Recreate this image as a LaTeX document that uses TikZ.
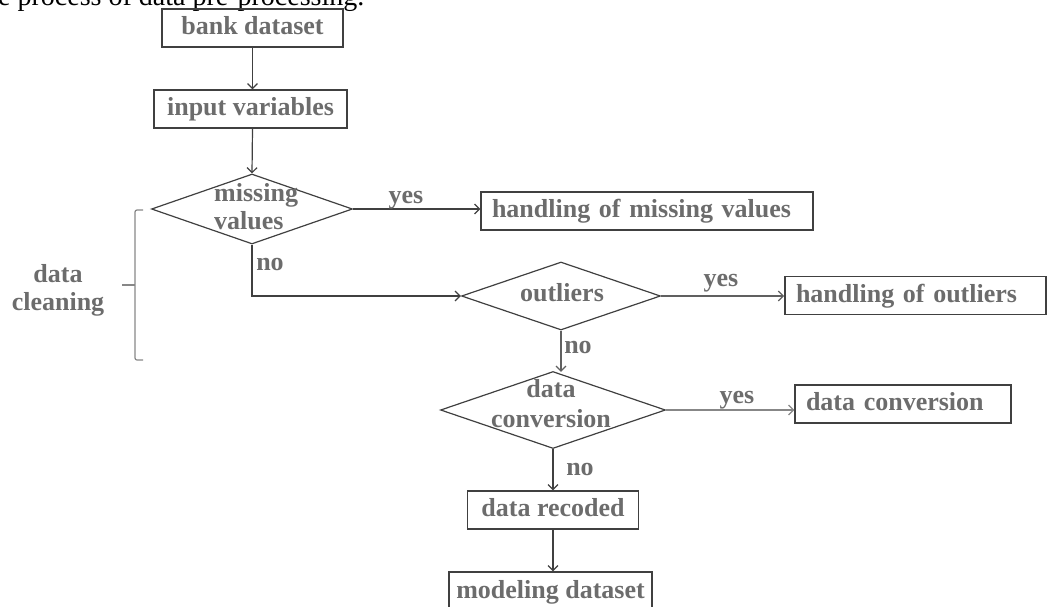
\documentclass[tikz,border=0pt]{standalone}
\usepackage{fontspec}
\setmainfont{Liberation Serif}
\usetikzlibrary{arrows.meta,shapes.geometric}
\definecolor{txtgray}{RGB}{108,108,108}
\definecolor{lngray}{RGB}{64,64,64}
\definecolor{midgray}{RGB}{96,96,96}
\definecolor{ltgray}{RGB}{135,135,135}
\tikzset{
  bfont/.style={font=\fontsize{26}{28}\selectfont\bfseries},
  box/.style={bfont, draw=lngray, line width=1.2pt, inner sep=0pt, minimum height=38pt,
    text height=17pt, text depth=4pt, text=txtgray},
  lbox/.style={box, inner xsep=11pt, align=left},
  dia/.style={shape=diamond, draw=lngray, line width=1.2pt, inner sep=0pt},
  dtext/.style={bfont, text=txtgray, inner sep=0pt},
  lab/.style={bfont, text=txtgray, inner sep=0pt, anchor=base},
  arr/.style={draw=lngray, line width=1.2pt, -{Straight Barb[length=5pt,width=10pt]}},
}
\begin{document}
\begin{tikzpicture}[x=1pt,y=-1pt]
\useasboundingbox (0,0) rectangle (1047,606);
\clip (0,0) rectangle (1047,606);
% caption fragment
\node[anchor=base west, inner sep=0pt, font=\fontsize{28}{30}\selectfont] (cap) at (-2,5.5) {e process of data pre-processing.};
% boxes
\node[box, minimum width=181pt] (bank) at (252.5,28) {bank dataset};
\node[box, minimum width=193pt] (input) at (250.5,109) {input variables};
\node[lbox, text width=310pt] (hm) at (647,211) {handling of missing values};
\node[lbox, text width=239pt, line width=1.8pt, draw=black!75] (ho) at (915.5,295.5) {handling of outliers};
\node[lbox, text width=194pt] (dcb) at (903,404) {data conversion};
\node[box, minimum width=171pt] (dr) at (553,510) {data recoded};
\node[box, minimum width=203pt, minimum height=40pt] (md) at (550.5,592) {modeling dataset};
% diamonds
\node[dia, minimum width=201pt, minimum height=70pt] (mv) at (252,209) {};
\node[dia, minimum width=199pt, minimum height=68pt] (out) at (561,296) {};
\node[dia, minimum width=225pt, minimum height=77pt] (dc) at (553,410) {};
\node[dtext, anchor=base west, align=left] (mvt) at (214,229) {missing\\values};
\node[dtext, anchor=base] (outt) at (562,301) {outliers};
\node[dtext, anchor=base, align=center, font=\fontsize{26}{30}\selectfont\bfseries] (dct) at (551,427) {data\\conversion};
% connectors
\draw[arr] (bank.south) -- (bank.south |- input.north);
\draw[arr] (bank.south |- input.south) -- (mv.north);
\draw[arr] (mv.east) -- (mv.east -| hm.west);
\draw[arr] (mv.south) |- (out.west);
\draw[arr, draw=midgray] (out.east) -- (out.east -| ho.west);
\draw[arr, draw=midgray] (out.south) -- ([yshift=-1pt]out.south |- dc.north);
\draw[arr, draw=ltgray] (dc.east) -- (dc.east -| dcb.west);
\draw[arr] (dc.south) -- (dc.south |- dr.north);
\draw[arr] (dc.south |- dr.south) -- (dc.south |- md.north);
% labels
\node[lab] (y1) at (406,203) {yes};
\node[lab] (n1) at (270,270) {no};
\node[lab] (y2) at (721,286) {yes};
\node[lab] (n2) at (578,353) {no};
\node[lab] (y3) at (737,403) {yes};
\node[lab] (n3) at (580,475) {no};
% bracket
\draw[ltgray, line width=1.2pt, rounded corners=2pt] (143,210) -- (135,210) -- (135,360) -- (143,360);
\draw[ltgray, line width=1.2pt] (122,285) -- (135,285);
\node[dtext, anchor=base, align=center] (dcl) at (58,310) {data\\cleaning};
\end{tikzpicture}
\end{document}
